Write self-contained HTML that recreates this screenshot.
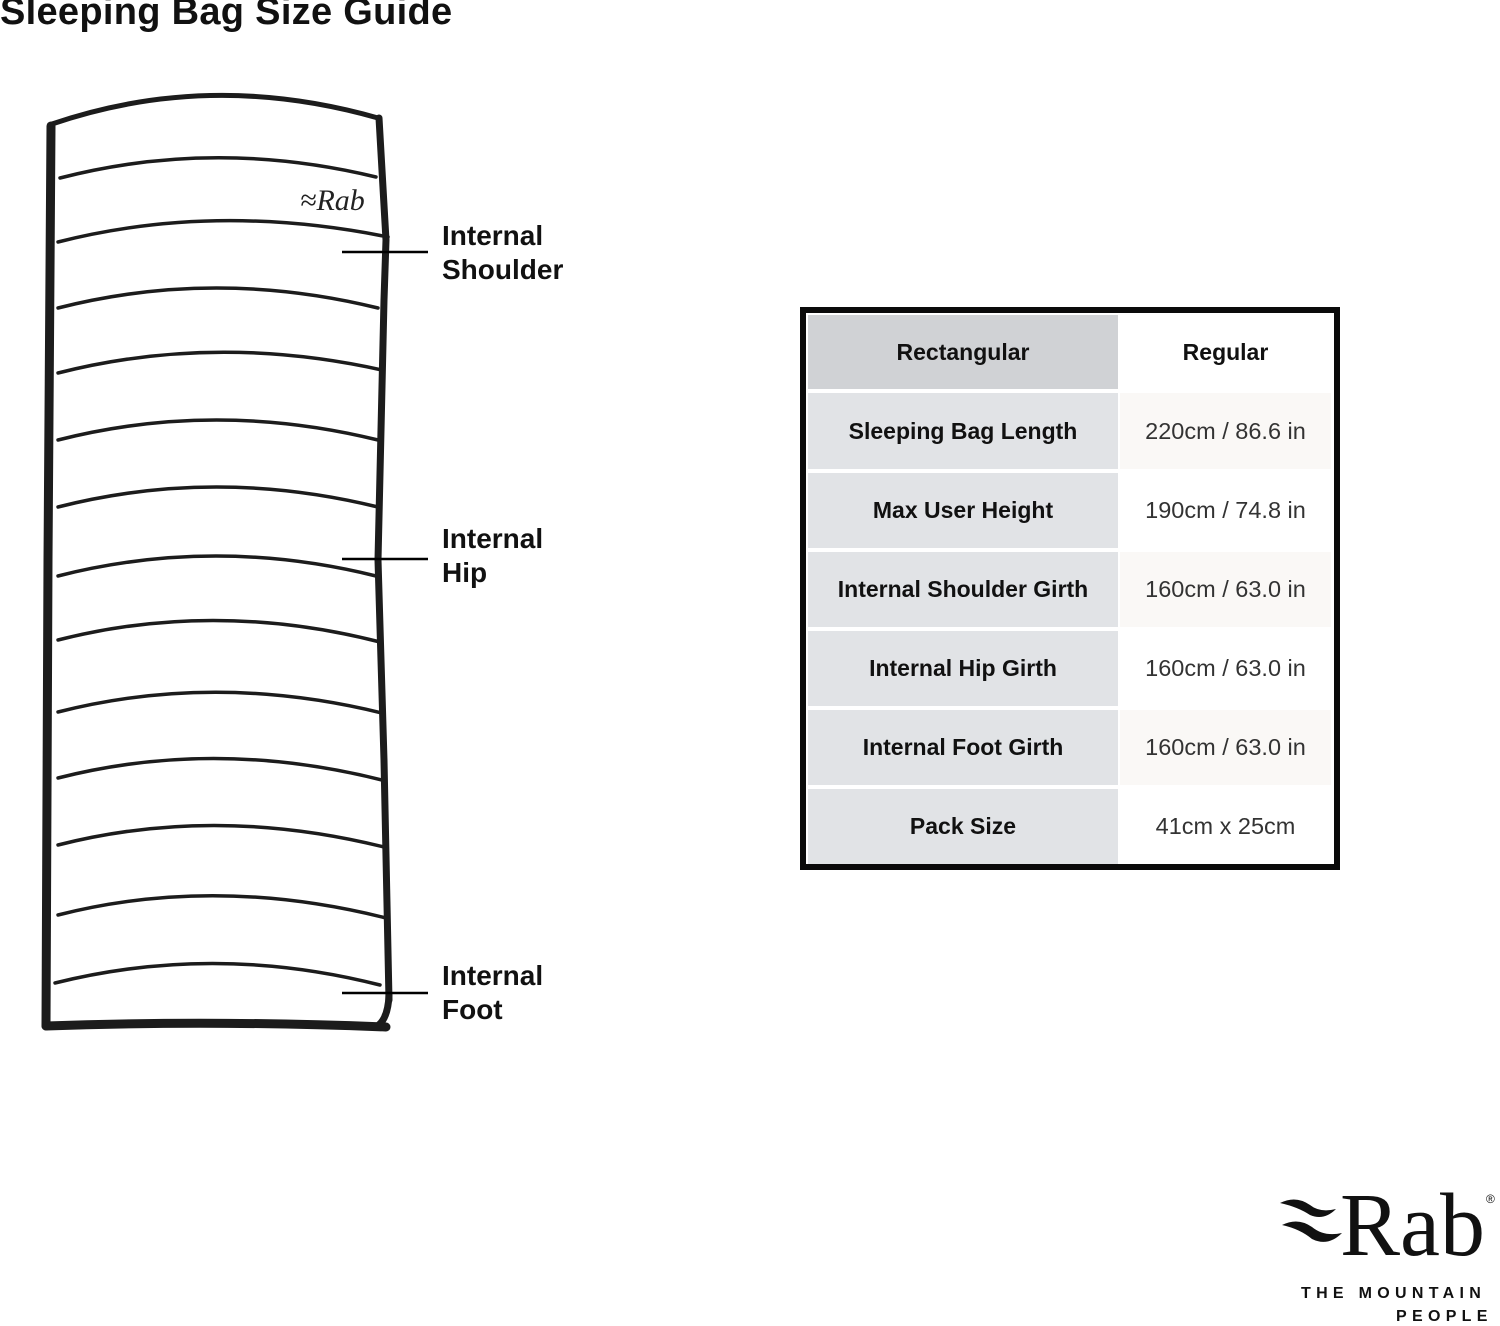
<!DOCTYPE html>
<html><head><meta charset="utf-8"><style>
body{margin:0;width:1500px;height:1326px;background:#fff;position:relative;overflow:hidden;font-family:"Liberation Sans",sans-serif;color:#111}
.t{position:absolute;white-space:nowrap}
.c{position:absolute;display:flex;align-items:center;justify-content:center;font-size:23px}
.l{background:#e1e3e6;font-weight:bold;left:808px;width:310px}
.r{left:1120px;width:211px;color:#333;font-size:23.5px}
.lab{position:absolute;left:442px;font-size:28px;font-weight:bold;line-height:34px}
</style></head><body>
<div class="t" style="left:0;top:-9px;font-size:38px;font-weight:bold;letter-spacing:0.3px">Sleeping Bag Size Guide</div>

<svg width="600" height="1060" style="position:absolute;left:0;top:0" fill="none" stroke="#1c1c1c" stroke-linecap="round">
<path d="M52 124 Q210 70 378 118" stroke-width="5"/>
<path d="M51 126 L48 560 L46 1026" stroke-width="9"/>
<path d="M379 118 L386 240 L384 300 L378 560 L384 760 L389 1000" stroke-width="7"/>
<path d="M46 1026 Q210 1020 386 1027" stroke-width="9"/>
<path d="M389 995 Q388 1020 376 1027" stroke-width="7"/>
<g stroke-width="3.5">
<path d="M60 178 Q215 138 376 177"/>
<path d="M58 242 Q215 202 388 237"/>
<path d="M58 308 Q215 268 378 308"/>
<path d="M58 373 Q215 333 382 370"/>
<path d="M58 440 Q215 400 378 440"/>
<path d="M58 507 Q215 467 378 507"/>
<path d="M58 576 Q215 536 376 576"/>
<path d="M58 640 Q215 600 380 642"/>
<path d="M58 712 Q215 672 382 713"/>
<path d="M58 778 Q215 738 382 780"/>
<path d="M58 845 Q215 805 384 847"/>
<path d="M58 915 Q215 875 386 918"/>
<path d="M55 983 Q215 943 380 985"/>
</g>
<g stroke="#000" stroke-width="2.5" stroke-linecap="butt">
<path d="M342 252 H428"/><path d="M342 559 H428"/><path d="M342 993 H428"/>
</g>
<text x="300" y="210" font-family="Liberation Serif" font-style="italic" font-size="30" fill="#222" stroke="none">≈Rab</text>
</svg>

<div class="lab" style="top:219px">Internal<br>Shoulder</div>
<div class="lab" style="top:522px">Internal<br>Hip</div>
<div class="lab" style="top:959px">Internal<br>Foot</div>

<div style="position:absolute;left:800px;top:307px;width:528px;height:551px;border:6px solid #0a0a0a;background:#fff"></div>
<div class="c" style="left:808px;width:310px;top:315px;height:74px;background:#d0d2d5;font-weight:bold">Rectangular</div>
<div class="c" style="left:1120px;width:211px;top:315px;height:74px;font-weight:bold">Regular</div>

<div class="c l" style="top:393px;height:76px">Sleeping Bag Length</div>
<div class="c r" style="top:393px;height:76px;background:#faf8f6">220cm / 86.6 in</div>
<div class="c l" style="top:473px;height:75px">Max User Height</div>
<div class="c r" style="top:473px;height:75px">190cm / 74.8 in</div>
<div class="c l" style="top:552px;height:75px">Internal Shoulder Girth</div>
<div class="c r" style="top:552px;height:75px;background:#faf8f6">160cm / 63.0 in</div>
<div class="c l" style="top:631px;height:75px">Internal Hip Girth</div>
<div class="c r" style="top:631px;height:75px">160cm / 63.0 in</div>
<div class="c l" style="top:710px;height:75px">Internal Foot Girth</div>
<div class="c r" style="top:710px;height:75px;background:#faf8f6">160cm / 63.0 in</div>
<div class="c l" style="top:789px;height:75px">Pack Size</div>
<div class="c r" style="top:789px;height:75px">41cm x 25cm</div>

<svg width="80" height="70" style="position:absolute;left:1276px;top:1195px" fill="#111">
<path d="M4 8 Q20 0 34 10 Q44 18 60 14 Q48 26 34 20 Q22 12 4 8Z"/>
<path d="M6 30 Q22 22 36 32 Q48 42 66 38 Q52 52 36 44 Q24 34 6 30Z"/>
</svg>
<div class="t" style="left:1340px;top:1176px;font-family:'Liberation Serif',serif;font-size:90px;line-height:100px;color:#111">Rab</div>
<div class="t" style="left:1486px;top:1192px;font-size:12px">®</div>
<div class="t" style="left:1301px;top:1285px;font-size:16px;font-weight:bold;letter-spacing:5.3px">THE MOUNTAIN</div>
<div class="t" style="left:1396px;top:1308px;font-size:16px;font-weight:bold;letter-spacing:5.3px">PEOPLE</div>
</body></html>
